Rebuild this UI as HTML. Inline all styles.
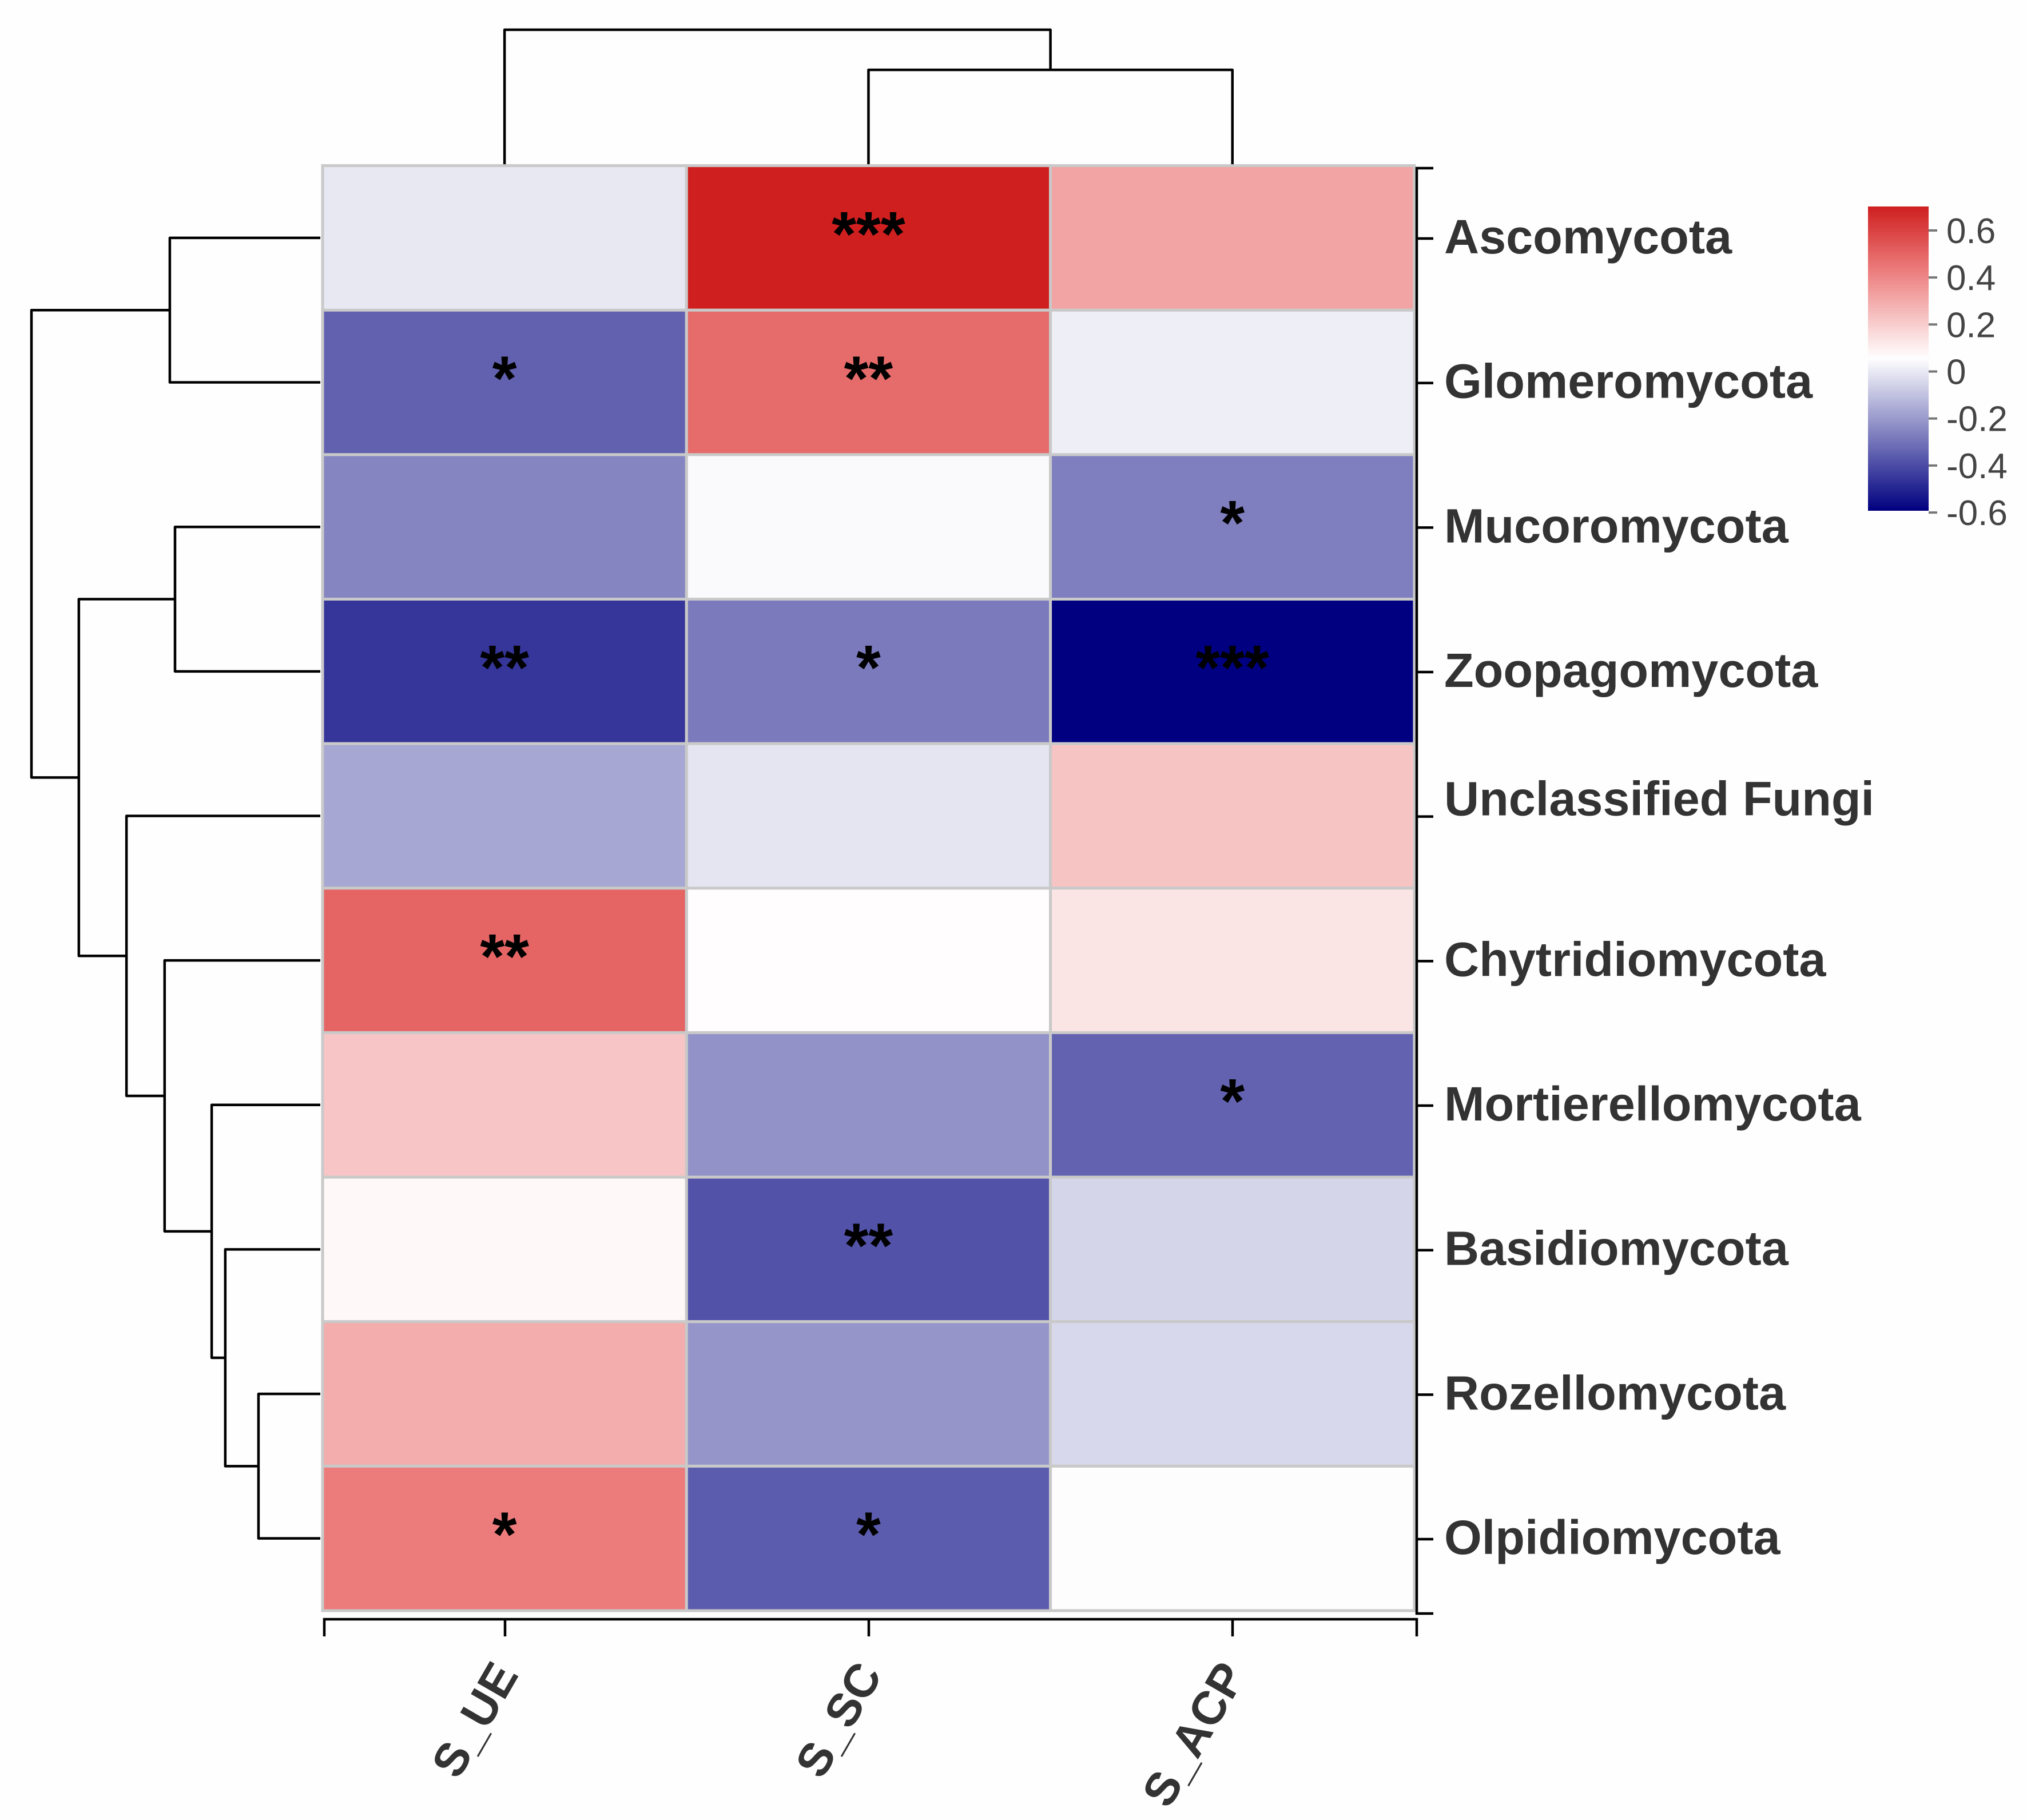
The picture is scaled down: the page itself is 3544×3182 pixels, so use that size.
<!DOCTYPE html>
<html lang="en">
<head>
<meta charset="utf-8">
<title>Fungal phyla correlation heatmap</title>
<style>
html,body{margin:0;padding:0;background:#fefefe;}
svg{display:block;}
text{font-family:"Liberation Sans",Arial,sans-serif;}
</style>
</head>
<body>
<svg id="chart" xmlns="http://www.w3.org/2000/svg" width="3544" height="3182" viewBox="0 0 3544 3182">
  <rect x="0" y="0" width="3544" height="3182" fill="#fefefe"/>
  <defs>
    <linearGradient id="legendGradient" x1="0" y1="0" x2="0" y2="1"></linearGradient>
  </defs>
  <g id="rowDendrogram"></g>
  <g id="colDendrogram"></g>
  <g id="cells"></g>
  <g id="stars"></g>
  <g id="rightAxis"></g>
  <g id="bottomAxis"></g>
  <g id="legend"></g>
</svg>
<script>
// ---------- data ----------
const rowLabels = ["Ascomycota","Glomeromycota","Mucoromycota","Zoopagomycota","Unclassified Fungi","Chytridiomycota","Mortierellomycota","Basidiomycota","Rozellomycota","Olpidiomycota"];
const colLabels = ["S_UE","S_SC","S_ACP"];
const valuesUE  = [-0.002,-0.345,-0.255,-0.458,-0.168, 0.499, 0.224, 0.077, 0.290, 0.433];
const valuesSC  = [ 0.700, 0.482, 0.044,-0.282,-0.009, 0.063,-0.222,-0.384,-0.214,-0.358];
const valuesACP = [ 0.321, 0.014,-0.270,-0.593, 0.226, 0.134,-0.342,-0.050,-0.042, 0.052];
const starsUE  = ["","*","","**","","**","","","","*"];
const starsSC  = ["***","**","","*","","","","**","","*"];
const starsACP = ["","","*","***","","","*","","",""];
const legendTicks = [0.6,0.4,0.2,0,-0.2,-0.4,-0.6];
const legendTickLabels = ["0.6","0.4","0.2","0","-0.2","-0.4","-0.6"];
// dendrogram merges: [childA, childB, height]; a child is a leaf index, or "n<k>" for merge k
const rowMerges = [
  [8,9,21.4],["n0",7,32.9],[6,"n1",37.6],[5,"n2",53.9],[4,"n3",67.1],
  [2,3,50.3],["n5","n4",83.6],[0,1,52.1],["n7","n6",100]
];
const colMerges = [[1,2,70.3],[0,"n0",100]];

// ---------- scales ----------
const seriesByCol = [valuesUE,valuesSC,valuesACP];
const starsByCol = [starsUE,starsSC,starsACP];
const gridLeft = 564, colW = 636.3, gridTop = 289.6, rowH = 252.64;
const colX = c => gridLeft + c*colW;
const rowY = r => gridTop + r*rowH;
const colCenter = c => colX(c) + colW/2;
const rowCenter = r => rowY(r) + rowH/2;
const rowTickY = r => 417 + r*252.67;
const colTickX = c => 883 + c*636;
const rowDendX = h => 560 - h*5.05;
const colDendY = h => 288 - h*2.36;
const legendY = v => 649.5 - v*411;
const legendTop = 361, legendBottom = 893, legendLeft = 3266, legendRight = 3372;
const colorStops = [[-0.593,[0,0,128]],[0.057,[255,255,255]],[0.42,[237,128,128]],[0.70,[207,31,31]]];
function colorOf(v){
  if(v<=colorStops[0][0]) return rgb(colorStops[0][1]);
  for(let i=1;i<colorStops.length;i++){
    if(v<=colorStops[i][0]){
      const a=colorStops[i-1],b=colorStops[i],t=(v-a[0])/(b[0]-a[0]);
      return rgb(a[1].map((x,k)=>x+(b[1][k]-x)*t));
    }
  }
  return rgb(colorStops[colorStops.length-1][1]);
}
function rgb(c){return "rgb("+c.map(x=>Math.round(x)).join(",")+")";}

const NS = "http://www.w3.org/2000/svg";
function mk(tag,attrs,parent,txt){
  const el=document.createElementNS(NS,tag);
  for(const k in attrs) el.setAttribute(k,attrs[k]);
  if(txt!==undefined) el.textContent=txt;
  parent.appendChild(el);
  return el;
}
const $ = id => document.getElementById(id);

// ---------- heatmap cells + stars ----------
seriesByCol.forEach((series,c)=>{
  series.forEach((v,r)=>{
    const cell=mk("rect",{x:colX(c),y:rowY(r),width:colW,height:rowH,fill:colorOf(v),stroke:"#c9c9c9","stroke-width":5},$("cells"));
    
    
    const s=starsByCol[c][r];
    if(s){
      const star=mk("text",{x:colCenter(c),y:rowCenter(r)+31,"text-anchor":"middle","font-size":110,"font-weight":"bold",fill:"#000"},$("stars"),s);
      
      
    }
  });
});

// ---------- dendrograms ----------
function drawDendrogram(merges,leafPos,heightPos,parent,horizontal,prefix){
  const nodes=[];
  const resolve=ch=>{
    if(typeof ch==="number") return {pos:leafPos(ch),h:0,leaf:true};
    return nodes[+ch.slice(1)];
  };
  merges.forEach((m,i)=>{
    const a=resolve(m[0]),b=resolve(m[1]);
    const hv=heightPos(m[2]);
    const ah=a.leaf?heightPos(0):heightPos(a.h);
    const bh=b.leaf?heightPos(0):heightPos(b.h);
    const d=horizontal
      ? "M"+ah+" "+a.pos+"H"+hv+"V"+b.pos+"H"+bh
      : "M"+a.pos+" "+ah+"V"+hv+"H"+b.pos+"V"+bh;
    const link=mk("path",{d:d,fill:"none",stroke:"#000","stroke-width":4.5,"stroke-linejoin":"round"},parent);
    
    
    nodes.push({pos:(a.pos+b.pos)/2,h:m[2]});
  });
}
drawDendrogram(rowMerges,rowCenter,rowDendX,$("rowDendrogram"),true,"row-dendrogram");
drawDendrogram(colMerges,colCenter,colDendY,$("colDendrogram"),false,"column-dendrogram");

// ---------- right axis ----------
const axRightX = 2477, axRightTop = 294, axRightBottom = 2821;
const rightLine=mk("path",{d:"M"+(axRightX+29)+" "+axRightTop+"H"+axRightX+"V"+axRightBottom+"H"+(axRightX+29),fill:"none",stroke:"#000","stroke-width":4.5},$("rightAxis"));


rowLabels.forEach((label,r)=>{
  const y=rowTickY(r);
  const tick=mk("line",{x1:axRightX,x2:axRightX+29,y1:y,y2:y,stroke:"#000","stroke-width":4.5},$("rightAxis"));
  
  
  const off = label==="Unclassified Fungi" ? -2 : 26;
  const t=mk("text",{x:2525,y:y+off,"font-size":84.6,"font-weight":"bold",fill:"#333"},$("rightAxis"),label);
  
  
});

// ---------- bottom axis ----------
const axBottomY = 2831, axBottomLeft = 567, axBottomRight = 2477;
const bottomLine=mk("path",{d:"M"+axBottomLeft+" 2861V"+axBottomY+"H"+axBottomRight+"V2861",fill:"none",stroke:"#000","stroke-width":4.5},$("bottomAxis"));


colLabels.forEach((label,c)=>{
  const x=colTickX(c);
  const tick=mk("line",{x1:x,x2:x,y1:axBottomY,y2:2861,stroke:"#000","stroke-width":4.5},$("bottomAxis"));
  
  
  const ax=x+25, ay=2928;
  const t=mk("text",{x:ax,y:ay,"text-anchor":"end","font-size":82,"font-weight":"bold",fill:"#333",transform:"rotate(-60 "+ax+" "+ay+")"},$("bottomAxis"),label);
  
  
});

// ---------- legend ----------
const vTop=(649.5-legendTop)/411, vBottom=(649.5-legendBottom)/411;
for(let i=0;i<=40;i++){
  const f=i/40, v=vTop+(vBottom-vTop)*f;
  const stop=mk("stop",{offset:f,"stop-color":colorOf(v)},$("legendGradient"));
  
  
}
const bar=mk("rect",{x:legendLeft,y:legendTop,width:legendRight-legendLeft,height:legendBottom-legendTop,fill:"url(#legendGradient)"},$("legend"));


legendTicks.forEach((v,i)=>{
  const y=legendY(v);
  const tick=mk("line",{x1:legendRight,x2:legendRight+15,y1:y,y2:y,stroke:"#777","stroke-width":4},$("legend"));
  
  
  const t=mk("text",{x:3403,y:y+22,"font-size":62,fill:"#444"},$("legend"),legendTickLabels[i]);
  
  
});
</script>
</body>
</html>
